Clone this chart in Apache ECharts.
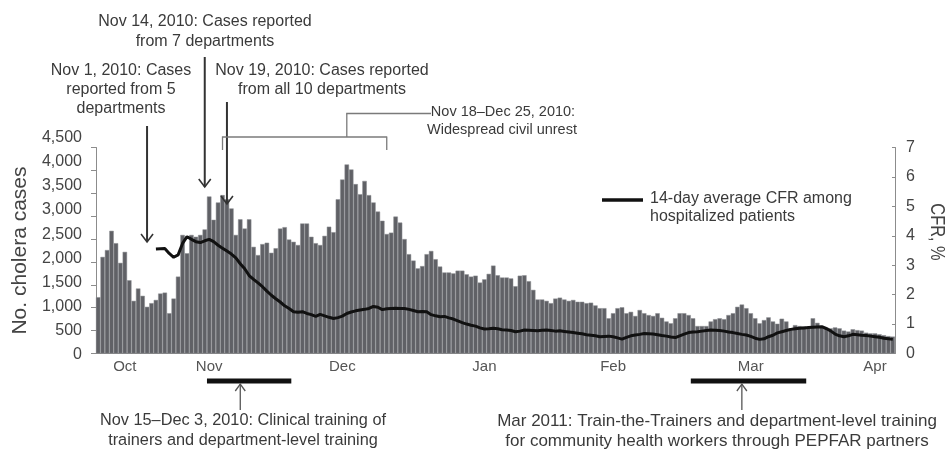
<!DOCTYPE html>
<html>
<head>
<meta charset="utf-8">
<script src="https://cdn.jsdelivr.net/npm/echarts@6/dist/echarts.min.js"></script>
<style>
  html, body { margin: 0; padding: 0; background: #fff; }
  #chart { width: 948px; height: 450px; }
</style>
</head>
<body>
<div id="chart"></div>
<script>
const FONT = '"Liberation Sans", Arial, Helvetica, sans-serif';

// First day of the daily series (one bar per day)
const startDate = '2010-10-21';

// Daily hospitalized cholera cases
const dailyCases = [
  1230, 2110, 2260, 2680, 2410, 1980, 2220, 1600, 1150, 1420,
  1260, 1020, 1100, 1170, 1310, 1330, 880, 1200, 1680, 2590,
  2190, 2590, 2550, 2590, 2710, 3430, 2920, 3300, 3460, 3370,
  3170, 2590, 2930, 2730, 2930, 2330, 2150, 2390, 2420, 2200,
  2300, 2730, 2760, 2490, 2440, 2370, 2840, 2840, 2550, 2410,
  2370, 2570, 2770, 2650, 3370, 3800, 4130, 4020, 3700, 3480,
  3770, 3460, 3300, 3100, 2900, 2610, 2640, 2990, 2860, 2500,
  2170, 2030, 1860, 1910, 2170, 2240, 2060, 1900, 1770, 1770,
  1750, 1810, 1810, 1730, 1680, 1700, 1550, 1620, 1740, 1920,
  1710, 1660, 1660, 1640, 1470, 1700, 1710, 1580, 1390, 1180,
  1180, 1150, 1100, 1200, 1220, 1180, 1150, 1170, 1130, 1130,
  1100, 1110, 1050, 990, 990, 770, 880, 990, 1010, 880,
  910, 820, 950, 880, 840, 820, 880, 780, 700, 660,
  770, 880, 880, 840, 770, 600, 600, 600, 700, 750,
  770, 750, 840, 880, 1020, 1070, 990, 880, 770, 660,
  730, 790, 700, 650, 760, 700, 550, 620, 600, 590,
  550, 770, 670, 600, 570, 550, 570, 550, 500, 480,
  530, 510, 500, 455, 440, 440, 420, 400, 380, 370
];

// 14-day average case-fatality rate (%), available from day 14 onward
const cfr14Day = [
  null, null, null, null, null, null, null, null, null, null,
  null, null, null, 3.55, 3.56, 3.57, 3.40, 3.27, 3.35, 3.74,
  3.97, 3.88, 3.80, 3.77, 3.83, 3.88, 3.80, 3.68, 3.58, 3.48,
  3.38, 3.25, 3.05, 2.88, 2.65, 2.52, 2.40, 2.27, 2.12, 1.98,
  1.86, 1.75, 1.62, 1.53, 1.42, 1.40, 1.42, 1.36, 1.32, 1.26,
  1.33, 1.28, 1.23, 1.19, 1.22, 1.27, 1.36, 1.41, 1.45, 1.48,
  1.50, 1.53, 1.60, 1.57, 1.49, 1.52, 1.53, 1.54, 1.53, 1.53,
  1.50, 1.46, 1.42, 1.43, 1.42, 1.32, 1.28, 1.25, 1.26, 1.21,
  1.17, 1.11, 1.05, 1.00, 0.96, 0.93, 0.87, 0.83, 0.84, 0.86,
  0.84, 0.81, 0.80, 0.78, 0.74, 0.76, 0.80, 0.79, 0.78, 0.77,
  0.79, 0.80, 0.78, 0.76, 0.77, 0.75, 0.73, 0.71, 0.69, 0.67,
  0.64, 0.62, 0.60, 0.57, 0.58, 0.59, 0.57, 0.53, 0.49, 0.55,
  0.60, 0.63, 0.65, 0.68, 0.67, 0.66, 0.64, 0.61, 0.59, 0.56,
  0.54, 0.60, 0.66, 0.71, 0.73, 0.74, 0.76, 0.78, 0.80, 0.79,
  0.78, 0.76, 0.73, 0.71, 0.68, 0.65, 0.63, 0.58, 0.52, 0.48,
  0.50, 0.57, 0.62, 0.70, 0.74, 0.78, 0.82, 0.84, 0.86, 0.87,
  0.88, 0.89, 0.90, 0.91, 0.85, 0.77, 0.66, 0.60, 0.57, 0.60,
  0.65, 0.64, 0.62, 0.61, 0.59, 0.57, 0.55, 0.52, 0.50, 0.48
];

// Month tick labels and the days they sit on
const monthLabelDates = ['2010-10-27', '2010-11-15', '2010-12-15', '2011-01-16', '2011-02-14', '2011-03-17', '2011-04-14'];
const monthLabelNames = ['Oct', 'Nov', 'Dec', 'Jan', 'Feb', 'Mar', 'Apr'];

// Event dates used by the annotations
const eventNov1 = '2010-11-01';
const eventNov14 = '2010-11-14';
const eventNov19 = '2010-11-19';
const unrestPeriod = ['2010-11-18', '2010-12-25'];
const unrestConnector = '2010-12-16';
const clinicalTraining = ['2010-11-15', '2010-12-03'];
const clinicalArrow = '2010-11-22';
const pepfarTraining = ['2011-03-04', '2011-03-29'];
const pepfarArrow = '2011-03-15';

// Build the day-by-day category list
const dates = [];
{
  const t0 = Date.parse(startDate + 'T00:00:00Z');
  for (let i = 0; i < dailyCases.length; i++) {
    dates.push(new Date(t0 + i * 86400000).toISOString().slice(0, 10));
  }
}
const labelName = {};
monthLabelDates.forEach((d, i) => { labelName[d] = monthLabelNames[i]; });

const AXIS_GRAY = '#8c8c8c';
const TEXT = '#3a3a3a';

// Left tick labels are spread slightly wider than the ticks themselves
const leftRich = {};
for (let i = 0; i <= 9; i++) {
  const shift = 1 - 1.18 * i;  // px, positive = down
  leftRich['l' + i] = {
    fontFamily: FONT, fontSize: 16, color: '#444',
    padding: shift > 0 ? [2 * shift, 0, 0, 0] : [0, 0, -2 * shift, 0]
  };
}

const chart = echarts.init(document.getElementById('chart'), null, { renderer: 'canvas' });

chart.setOption({
  animation: false,
  backgroundColor: '#fff',
  textStyle: { fontFamily: FONT },
  grid: { left: 96, right: 53, top: 147.5, bottom: 96.5, containLabel: false, outerBoundsMode: 'none' },
  xAxis: {
    type: 'category',
    data: dates,
    boundaryGap: true,
    axisLine: { lineStyle: { color: AXIS_GRAY, width: 1 } },
    axisTick: {
      interval: (i) => i % 7 === 0,
      length: 4,
      lineStyle: { color: AXIS_GRAY }
    },
    axisLabel: {
      interval: (i, v) => labelName[v] !== undefined,
      formatter: (v) => labelName[v] || '',
      fontFamily: FONT,
      fontSize: 15,
      color: '#555',
      margin: 6
    },
    splitLine: { show: false }
  },
  yAxis: [
    {
      type: 'value',
      position: 'left',
      min: 0, max: 4500, interval: 500,
      axisLine: { show: true, lineStyle: { color: AXIS_GRAY } },
      axisTick: { show: true, length: 5, lineStyle: { color: AXIS_GRAY } },
      splitLine: { show: false },
      axisLabel: {
        formatter: (v) => '{l' + Math.round(v / 500) + '|' + v.toLocaleString('en-US') + '}',
        rich: leftRich,
        fontFamily: FONT, fontSize: 16, color: '#444', margin: 14
      },
      name: 'No. cholera cases',
      nameLocation: 'middle',
      nameGap: 62,
      nameTextStyle: { fontFamily: FONT, fontSize: 21, color: '#444' }
    },
    {
      type: 'value',
      position: 'right',
      min: 0, max: 7, interval: 1,
      axisLine: { show: true, lineStyle: { color: AXIS_GRAY } },
      axisTick: { show: true, inside: true, length: 3, lineStyle: { color: AXIS_GRAY } },
      splitLine: { show: false },
      axisLabel: { fontFamily: FONT, fontSize: 16, color: '#444', margin: 11, padding: [6, 0, 0, 0] }
    }
  ],
  series: [
    {
      name: 'Cases',
      type: 'bar',
      data: dailyCases,
      barCategoryGap: '0%',
      itemStyle: { color: '#606166', borderColor: '#8d8e92', borderWidth: 0.5 },
      z: 2
    },
    {
      name: '14-day average CFR among hospitalized patients',
      type: 'line',
      yAxisIndex: 1,
      data: cfr14Day,
      showSymbol: false,
      symbol: 'none',
      connectNulls: false,
      lineStyle: { color: '#111', width: 3 },
      z: 5
    }
  ]
});

// Annotations, positioned from the axis scale
const px = (d) => chart.convertToPixel({ xAxisIndex: 0 }, d);
const band = px(dates[1]) - px(dates[0]);

function text(x, y, s, align, size) {
  return {
    type: 'text', x, y, z: 20,
    style: {
      text: s, fill: TEXT, font: (size || 16) + 'px ' + FONT,
      textAlign: align || 'center', textVerticalAlign: 'middle'
    }
  };
}
function line(x1, y1, x2, y2, color, w) {
  return {
    type: 'line', z: 20,
    shape: { x1, y1, x2, y2 },
    style: { stroke: color, lineWidth: w }
  };
}
function arrowDown(x, y1, y2) {
  return [
    line(x, y1, x, y2, '#333', 2),
    { type: 'polyline', z: 20, shape: { points: [[x - 6, y2 - 8], [x, y2], [x + 6, y2 - 8]] },
      style: { stroke: '#333', lineWidth: 1.6, fill: null } }
  ];
}
function arrowUp(x, y1, y2) {
  return [
    line(x, y1, x, y2, '#555', 1.3),
    { type: 'polyline', z: 20, shape: { points: [[x - 5, y2 + 7], [x, y2], [x + 5, y2 + 7]] },
      style: { stroke: '#555', lineWidth: 1.3, fill: null } }
  ];
}

const g = [];
// Right axis title, set in a narrow face reading downward
g.push({
  type: 'text', x: 937, y: 232, rotation: -Math.PI / 2, scaleX: 0.78, z: 20,
  style: { text: 'CFR, %', fill: '#444', font: '21px ' + FONT, textAlign: 'center', textVerticalAlign: 'middle' }
});
// Nov 1
g.push(text(121, 71, 'Nov 1, 2010: Cases'), text(121, 90, 'reported from 5'), text(121, 109, 'departments'));
g.push(...arrowDown(px(eventNov1), 126, 242));
// Nov 14
g.push(text(205, 22, 'Nov 14, 2010: Cases reported'), text(205, 42, 'from 7 departments'));
g.push(...arrowDown(px(eventNov14), 57, 187));
// Nov 19
g.push(text(322, 71, 'Nov 19, 2010: Cases reported'), text(322, 90, 'from all 10 departments'));
g.push(...arrowDown(px(eventNov19), 102, 204));
// Civil unrest bracket
{
  const xa = px(unrestPeriod[0]), xb = px(unrestPeriod[1]), xc = px(unrestConnector);
  const BR = '#7a7a7a';
  g.push(line(xa, 137, xb, 137, BR, 1.3), line(xa, 136.4, xa, 150, BR, 1.3), line(xb, 136.4, xb, 150, BR, 1.3));
  g.push(line(xc, 137, xc, 113.5, BR, 1.3), line(xc - 0.6, 113.5, 431, 113.5, BR, 1.3));
  g.push(text(503, 112, 'Nov 18\u2013Dec 25, 2010:', 'center', 14.5), text(502, 130, 'Widespread civil unrest', 'center', 14.5));
}
// Legend
g.push(line(602, 200, 643, 200, '#111', 3.5));
g.push(text(650, 199, '14-day average CFR among', 'left'), text(650, 217, 'hospitalized patients', 'left'));
// Training periods below the axis
{
  const a0 = px(clinicalTraining[0]) - band / 2, a1 = px(clinicalTraining[1]) + band / 2;
  g.push(line(a0, 381, a1, 381, '#111', 5));
  g.push(...arrowUp(px(clinicalArrow), 410, 384));
  g.push(text(243, 421, 'Nov 15\u2013Dec 3, 2010: Clinical training of', 'center', 16.3),
         text(243, 441, 'trainers and department-level training', 'center', 16.3));
  const b0 = px(pepfarTraining[0]) - band / 2, b1 = px(pepfarTraining[1]) + band / 2;
  g.push(line(b0, 381, b1, 381, '#111', 5));
  g.push(...arrowUp(px(pepfarArrow), 410, 384));
  g.push(text(717, 421, 'Mar 2011: Train-the-Trainers and department-level training', 'center', 17),
         text(717, 441, 'for community health workers through PEPFAR partners', 'center', 17));
}
chart.setOption({ graphic: { elements: g } });
</script>
</body>
</html>
